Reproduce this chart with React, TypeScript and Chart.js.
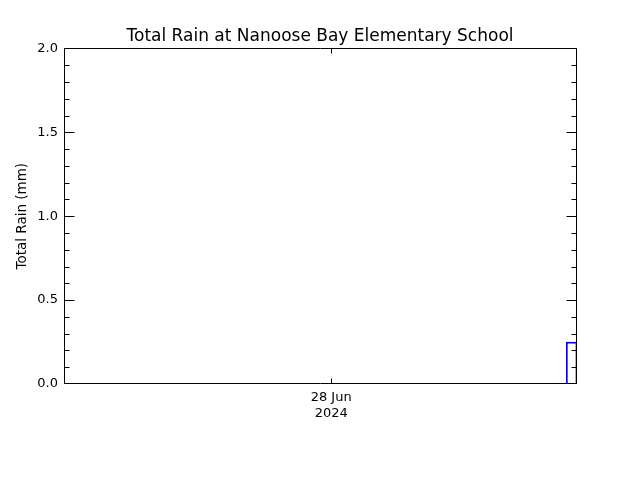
import { useEffect, useRef } from 'react';
import { Chart, registerables } from 'chart.js';

Chart.register(...registerables);

const chartTitle = 'Total Rain at Nanoose Bay Elementary School';
const yTitle = 'Total Rain (mm)';

// half-hour bins, hours since 27 Jun 11:30 (bin centres)
const binHours = [
  0.25, 0.75, 1.25, 1.75, 2.25, 2.75, 3.25, 3.75, 4.25, 4.75, 5.25, 5.75,
  6.25, 6.75, 7.25, 7.75, 8.25, 8.75, 9.25, 9.75, 10.25, 10.75, 11.25, 11.75,
  12.25, 12.75, 13.25, 13.75, 14.25, 14.75, 15.25, 15.75, 16.25, 16.75, 17.25, 17.75,
  18.25, 18.75, 19.25, 19.75, 20.25, 20.75, 21.25, 21.75, 22.25, 22.75, 23.25, 23.75,
];
const rainMm = [
  0, 0, 0, 0, 0, 0, 0, 0, 0, 0, 0, 0,
  0, 0, 0, 0, 0, 0, 0, 0, 0, 0, 0, 0,
  0, 0, 0, 0, 0, 0, 0, 0, 0, 0, 0, 0,
  0, 0, 0, 0, 0, 0, 0, 0, 0, 0, 0, 0.25,
];

const xMin = 0;
const xMax = 24;
const xTickHours = [12.5];
const xTickLabels = [['28 Jun', '2024']];

const yMin = 0;
const yMax = 2.0;
const yMinorStep = 0.1;
const yMajorStep = 0.5;

// IDL style box with inward ticks, drawn over the data
const framePlugin = {
  id: 'idlFrame',
  afterDatasetsDraw(chart: any) {
    const { ctx, chartArea: a, scales } = chart;
    const L = Math.round(a.left) + 0.5;
    const R = Math.round(a.right) - 0.5;
    const T = Math.round(a.top) + 0.5;
    const B = Math.round(a.bottom) - 0.5;
    ctx.save();
    ctx.strokeStyle = '#000';
    ctx.lineWidth = 1;
    ctx.beginPath();
    ctx.rect(L, T, R - L, B - T);
    scales.y.ticks.forEach((t: any) => {
      const py = Math.min(B, Math.max(T, Math.round(scales.y.getPixelForValue(t.value)) + 0.5));
      const len = t.label ? 10 : 5;
      ctx.moveTo(L, py); ctx.lineTo(L + len, py);
      ctx.moveTo(R, py); ctx.lineTo(R - len, py);
    });
    scales.x.ticks.forEach((t: any) => {
      const px = Math.round(scales.x.getPixelForValue(t.value)) + 0.5;
      ctx.moveTo(px, B); ctx.lineTo(px, B - 5);
      ctx.moveTo(px, T); ctx.lineTo(px, T + 5);
    });
    ctx.stroke();
    ctx.restore();
  },
};

const RainChart = () => {
  const canvasRef = useRef<HTMLCanvasElement>(null);
  const chartRef = useRef<any>(null);

  useEffect(() => {
    if (!canvasRef.current) return;
    if (chartRef.current) chartRef.current.destroy();

    Chart.defaults.font.family = '"DejaVu Sans", sans-serif';
    Chart.defaults.font.size = 13;
    Chart.defaults.color = '#000';

    chartRef.current = new Chart(canvasRef.current, {
      type: 'bar',
      data: {
        datasets: [{
          data: binHours.map((x, i) => ({ x, y: rainMm[i] })),
          backgroundColor: 'rgba(0,0,0,0)',
          borderColor: 'rgb(0,0,220)',
          borderWidth: 1,
          borderSkipped: 'start',
          categoryPercentage: 1,
          barPercentage: 1,
        }],
      },
      options: {
        animation: false,
        responsive: true,
        maintainAspectRatio: false,
        layout: { padding: 0 },
        plugins: {
          legend: { display: false },
          tooltip: { enabled: false },
          title: {
            display: true,
            text: chartTitle,
            font: { size: 17, weight: 'normal' },
            padding: { top: 26, bottom: 2 },
          },
        },
        scales: {
          x: {
            type: 'linear',
            min: xMin,
            max: xMax,
            offset: false,
            grid: { display: false, drawTicks: false },
            border: { display: false },
            afterBuildTicks: (s: any) => { s.ticks = xTickHours.map(v => ({ value: v })); },
            afterFit: (s: any) => { s.height = 96; },
            ticks: {
              autoSkip: false,
              maxRotation: 0,
              padding: 6,
              callback: (_v: any, i: number) => xTickLabels[i],
            },
          },
          y: {
            min: yMin,
            max: yMax,
            grid: { display: false, drawTicks: false },
            border: { display: false },
            afterFit: (s: any) => { s.width = 64; },
            title: { display: true, text: yTitle, font: { size: 13.5 }, padding: { top: 14, bottom: 0 } },
            ticks: {
              stepSize: yMinorStep,
              autoSkip: false,
              padding: 6,
              callback: (v: any) => {
                const n = Number(v) / yMajorStep;
                return Math.abs(n - Math.round(n)) < 1e-6 ? Number(v).toFixed(1) : '';
              },
            },
          },
          // empty right margin so the title stays centred on the page
          yRight: {
            position: 'right',
            min: yMin,
            max: yMax,
            grid: { display: false, drawTicks: false },
            border: { display: false },
            ticks: { display: false },
            afterFit: (s: any) => { s.width = 63; },
          },
        },
      },
      plugins: [framePlugin],
    } as any);

    return () => { if (chartRef.current) chartRef.current.destroy(); };
  }, []);

  return (
    <div style={{ position: 'fixed', left: 0, top: 0, width: 640, height: 480, background: '#fff' }}>
      <canvas ref={canvasRef}></canvas>
    </div>
  );
};

export default function App() {
  return <RainChart />;
}
